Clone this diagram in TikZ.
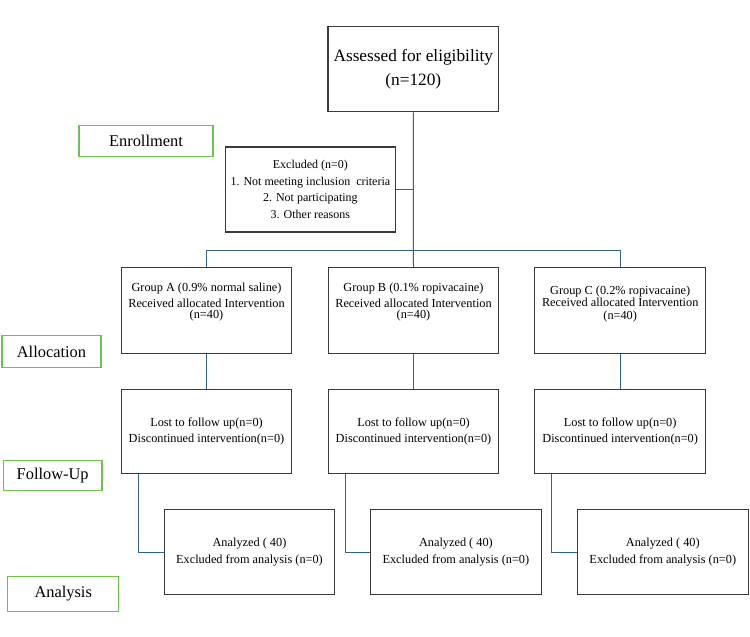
\documentclass[tikz,border=0pt]{standalone}
\usepackage{fontspec}
\setmainfont{Liberation Serif}
\definecolor{boxgray}{HTML}{3A3A3A}
\definecolor{labgreen}{HTML}{6CC24A}
\definecolor{linkblue}{HTML}{2F6486}
\begin{document}
\begin{tikzpicture}[x=1pt,y=-1pt,
  box/.style={draw=boxgray,line width=1.1pt,minimum width=170.6pt,inner sep=0pt,align=center,font=\fontsize{12.3}{16.6}\selectfont},
  lab/.style={draw=labgreen,line width=1.1pt,inner sep=0pt,font=\fontsize{16.4}{19}\selectfont},
  txt/.style={align=center,inner sep=0pt,font=\fontsize{12.3}{16.5}\selectfont},
  conn/.style={draw=linkblue,line width=1pt}]
\useasboundingbox[fill=white] (0,0) rectangle (750,637);

% side labels
\node[lab,minimum width=134pt,minimum height=31.7pt] (enr) at (146,140.9) {Enrollment};
\node[lab,minimum width=99pt,minimum height=31.6pt] (alloc) at (51.5,351.5) {Allocation};
\node[lab,minimum width=98.6pt,minimum height=30.4pt] (fup) at (52.7,475.5) {Follow-Up};
\node[lab,minimum width=111pt,minimum height=34.6pt] (ana) at (63.2,594) {Analysis};

% enrollment
\node[box,minimum height=85pt,font=\fontsize{17.3}{24}\selectfont] (assess) at (413.3,69.2) {Assessed for eligibility\\(n=120)};
\node[box,minimum height=85pt,font=\fontsize{12}{16.7}\selectfont] (excl) at (310.4,189.5) {Excluded (n=0)\\1. Not meeting inclusion\ \ criteria\\2. Not participating\\3. Other reasons};

% allocation
\node[box,minimum height=85.6pt] (gA) at (206.5,310.5) {};
\node[box,minimum height=85.6pt] (gB) at (413.5,310.5) {};
\node[box,minimum height=85.6pt] (gC) at (620.2,310.5) {};
\node[txt] (gAt) at (206.5,302.4) {Group A (0.9\% normal saline)\\[-0.5pt]Received allocated Intervention\\[-5.5pt](n=40)};
\node[txt] (gBt) at (413.5,302.4) {Group B (0.1\% ropivacaine)\\[-0.5pt]Received allocated Intervention\\[-5.5pt](n=40)};
\node[txt] (gCt) at (620.2,303.9) {Group C (0.2\% ropivacaine)\\[-4.9pt]Received allocated Intervention\\[-3.8pt](n=40)};

% follow-up
\node[box,minimum height=84.4pt] (fA) at (206.5,431.5) {Lost to follow up(n=0)\\Discontinued intervention(n=0)};
\node[box,minimum height=84.4pt] (fB) at (413.5,431.5) {Lost to follow up(n=0)\\Discontinued intervention(n=0)};
\node[box,minimum height=84.4pt] (fC) at (620.2,431.5) {Lost to follow up(n=0)\\Discontinued intervention(n=0)};

% analysis
\node[box,minimum height=85pt] (aA) at (249.5,552.2) {Analyzed ( 40)\\Excluded from analysis (n=0)};
\node[box,minimum height=85pt] (aB) at (455.9,552.2) {Analyzed ( 40)\\Excluded from analysis (n=0)};
\node[box,minimum height=85pt] (aC) at (662.8,552.2) {Analyzed ( 40)\\Excluded from analysis (n=0)};

% connectors
\draw[conn] (assess.south) -- (gB.north);
\draw[conn] (excl.east) -- (excl.east -| assess.south);
\draw[conn] (gA.north) -- ++(0,-17) -| (gC.north);
\draw[conn] (gA.south) -- (fA.north);
\draw[conn] (gB.south) -- (fB.north);
\draw[conn] (gC.south) -- (fC.north);
\draw[conn] ([xshift=17.5pt]fA.south west) |- (aA.west);
\draw[conn] ([xshift=17.5pt]fB.south west) |- (aB.west);
\draw[conn] ([xshift=17.5pt]fC.south west) |- (aC.west);
\end{tikzpicture}
\end{document}
